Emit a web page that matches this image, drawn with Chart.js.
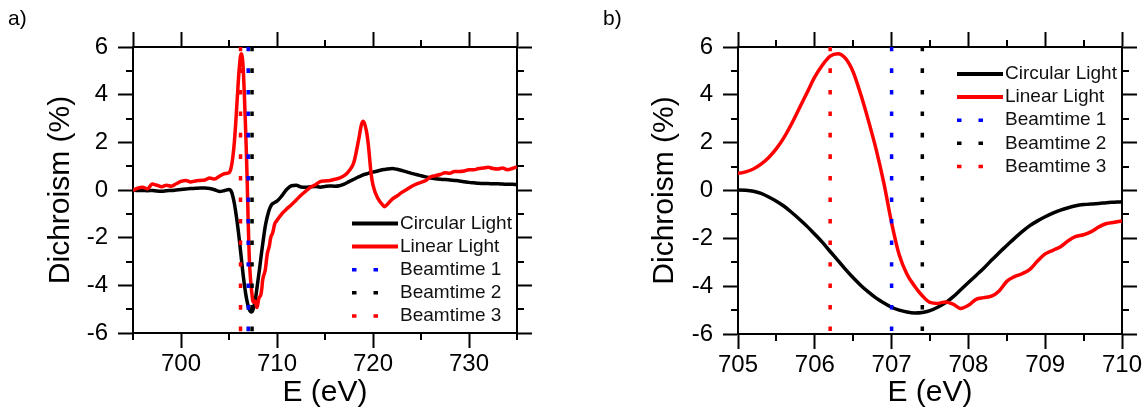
<!DOCTYPE html>
<html>
<head>
<meta charset="utf-8">
<script src="https://cdn.jsdelivr.net/npm/chart.js@4/dist/chart.umd.min.js"></script>
<style>
  body { margin: 0; background: #fff; }
  #wrap { position: relative; width: 1148px; height: 413px; }
  canvas { position: absolute; top: 0; }
  .tag { position: absolute; font: 21px 'Liberation Sans', Arial, sans-serif; line-height: 1; color: #000; }
</style>
</head>
<body>
<div id="wrap">
  <canvas id="panelA" width="574" height="413" style="left:0"></canvas>
  <canvas id="panelB" width="574" height="413" style="left:574px"></canvas>
  <div class="tag" style="left:8px;top:7px">a)</div>
  <div class="tag" style="left:603px;top:7px">b)</div>
</div>
<script>
// photon energy (eV)
const energy = [
  695, 695.5, 696, 696.5, 697, 697.5, 698, 698.5, 699, 699.5,
  700, 700.5, 701, 701.5, 702, 702.5, 703, 703.5, 704, 704.5,
  705, 705.1, 705.2, 705.3, 705.4, 705.5, 705.6, 705.7, 705.8, 705.9,
  706, 706.1, 706.2, 706.3, 706.4, 706.5, 706.6, 706.7, 706.8, 706.9,
  707, 707.1, 707.2, 707.3, 707.4, 707.5, 707.6, 707.7, 707.8, 707.9,
  708, 708.1, 708.2, 708.3, 708.4, 708.5, 708.6, 708.7, 708.8, 708.9,
  709, 709.1, 709.2, 709.3, 709.4, 709.5, 709.6, 709.7, 709.8, 709.9,
  710, 710.5, 711, 711.5, 712, 712.5, 713, 713.5, 714, 714.5,
  715, 715.5, 716, 716.5, 717, 717.5, 718, 718.5, 718.8, 719,
  719.3, 719.5, 719.8, 720, 720.5, 721, 721.2, 721.5, 722, 722.5,
  723, 723.5, 724, 724.5, 725, 725.5, 726, 726.5, 727, 727.5,
  728, 728.5, 729, 729.5, 730, 730.5, 731, 731.5, 732, 732.5,
  733, 733.5, 734, 734.5, 735
];
// dichroism (%) with circular light
const circular = [
  0, -0.02, -0.02, -0.03, -0.02, -0.04, -0.05, -0.03, -0.02, 0,
  0.02, 0.04, 0.06, 0.07, 0.08, 0.08, 0.06, 0.01, -0.06, -0.03,
  0.02, 0.01, -0.03, -0.12, -0.27, -0.45, -0.66, -0.92, -1.2, -1.5,
  -1.83, -2.17, -2.55, -2.92, -3.3, -3.65, -3.97, -4.25, -4.5, -4.7,
  -4.88, -5.0, -5.08, -5.12, -5.1, -5.02, -4.88, -4.7, -4.45, -4.15,
  -3.85, -3.55, -3.25, -2.92, -2.6, -2.3, -2.0, -1.72, -1.47, -1.27,
  -1.1, -0.95, -0.82, -0.72, -0.64, -0.59, -0.56, -0.54, -0.51, -0.49,
  -0.47, -0.25, 0.02, 0.18, 0.2, 0.13, 0.12, 0.14, 0.15, 0.12,
  0.15, 0.17, 0.16, 0.18, 0.25, 0.35, 0.45, 0.55, 0.6, 0.64,
  0.67, 0.7, 0.73, 0.75, 0.8, 0.85, 0.86, 0.88, 0.9, 0.87,
  0.82, 0.76, 0.7, 0.65, 0.6, 0.55, 0.5, 0.47, 0.45, 0.44,
  0.42, 0.4, 0.38, 0.35, 0.32, 0.3, 0.28, 0.27, 0.27, 0.26,
  0.26, 0.25, 0.24, 0.24, 0.23
];
// dichroism (%) with linear light
const linear = [
  -0.02, 0.08, 0.12, 0.05, 0.25, 0.2, 0.14, 0.2, 0.16, 0.26,
  0.36, 0.4, 0.34, 0.38, 0.4, 0.42, 0.5, 0.46, 0.58, 0.68,
  0.72, 0.78, 0.9, 1.1, 1.38, 1.75, 2.22, 2.8, 3.45, 4.1,
  4.75, 5.25, 5.62, 5.72, 5.52, 4.95, 4.0, 2.9, 1.7, 0.3,
  -1.35, -2.7, -3.5, -4.0, -4.4, -4.68, -4.72, -4.66, -4.75, -4.93,
  -4.8, -4.55, -4.48, -4.42, -4.2, -3.8, -3.6, -3.48, -3.3, -2.95,
  -2.65, -2.5, -2.35, -2.1, -1.92, -1.85, -1.72, -1.52, -1.38, -1.33,
  -1.27, -1.0, -0.8, -0.62, -0.42, -0.22, -0.05, 0.12, 0.22, 0.35,
  0.38, 0.4, 0.45, 0.5, 0.6, 0.8, 1.15, 2.1, 2.75, 2.88,
  2.5, 1.95, 0.7, 0.2, -0.35, -0.62, -0.7, -0.6, -0.38, -0.25,
  -0.1, 0.02, 0.15, 0.25, 0.32, 0.4, 0.55, 0.6, 0.65, 0.72,
  0.7, 0.78, 0.78, 0.8, 0.85, 0.85, 0.9, 0.92, 0.95, 0.9,
  0.88, 0.92, 0.85, 0.9, 0.97
];
const beamtimes = [707.0, 707.4, 706.2];
const beamtimeNames = ['Beamtime 1', 'Beamtime 2', 'Beamtime 3'];
const beamtimeColors = ['#0000ff', '#000000', '#ff0000'];

const yTicks = [-6, -4, -2, 0, 2, 4, 6];
const yMinor = [-5, -3, -1, 1, 3, 5];
const xTicksA = [700, 710, 720, 730];
const xTopA = [695, 700, 710, 720, 730, 735];
const xMinorA = [705, 715, 725];
const xMinorBottomA = [695, 705, 715, 725, 735];
const xTicksB = [705, 706, 707, 708, 709, 710];
const xMinorB = [705.5, 706.5, 707.5, 708.5, 709.5];

Chart.defaults.font.family = "'Liberation Sans', Arial, sans-serif";
Chart.defaults.color = '#000';

const minorTicks = {
  id: 'minorTicks',
  afterDraw(chart, args, opts) {
    const ctx = chart.ctx;
    const { left, right, top, bottom } = chart.chartArea;
    ctx.save();
    ctx.strokeStyle = '#000';
    ctx.lineWidth = 2;
    for (const id of Object.keys(opts.values)) {
      const scale = chart.scales[id];
      for (const v of opts.values[id]) {
        const p = Math.round(scale.getPixelForValue(v));
        ctx.beginPath();
        if (scale.position === 'bottom') { ctx.moveTo(p, bottom); ctx.lineTo(p, bottom + opts.length); }
        if (scale.position === 'top') { ctx.moveTo(p, top); ctx.lineTo(p, top - opts.length); }
        if (scale.position === 'left') { ctx.moveTo(left, p); ctx.lineTo(left - opts.length, p); }
        if (scale.position === 'right') { ctx.moveTo(right, p); ctx.lineTo(right + opts.length, p); }
        ctx.stroke();
      }
    }
    ctx.restore();
  }
};

const sampleLegend = {
  id: 'sampleLegend',
  afterDatasetsDraw(chart, args, opts) {
    const ctx = chart.ctx;
    ctx.save();
    ctx.font = opts.fontSize + "px 'Liberation Sans', Arial, sans-serif";
    ctx.textBaseline = 'middle';
    chart.data.datasets.forEach((ds, i) => {
      const y = opts.top + i * opts.rowHeight;
      const dashed = !!ds.borderDash;
      ctx.beginPath();
      ctx.strokeStyle = ds.borderColor;
      ctx.lineWidth = dashed ? 3.5 : 4;
      ctx.setLineDash(dashed ? ds.borderDash : []);
      ctx.moveTo(opts.left, y);
      ctx.lineTo(opts.left + (dashed ? opts.dashedWidth : opts.sampleWidth), y);
      ctx.stroke();
      ctx.setLineDash([]);
      ctx.fillStyle = '#111';
      ctx.fillText(ds.label, opts.left + opts.sampleWidth + opts.gap, y);
    });
    ctx.restore();
  }
};

function makeDatasets() {
  const sets = [
    { label: 'Circular Light', data: energy.map((e, i) => ({ x: e, y: circular[i] })),
      borderColor: '#000000', borderWidth: 3.5, order: 2 },
    { label: 'Linear Light', data: energy.map((e, i) => ({ x: e, y: linear[i] })),
      borderColor: '#ff0000', borderWidth: 3.5, order: 1 }
  ];
  beamtimes.forEach((e, i) => {
    sets.push({
      label: beamtimeNames[i],
      data: [{ x: e, y: yTicks[yTicks.length - 1] }, { x: e, y: yTicks[0] }],
      borderColor: beamtimeColors[i], borderWidth: 3.5, borderDash: [4.5, 17], order: 0
    });
  });
  sets.forEach(s => { s.pointRadius = 0; s.fill = false; s.cubicInterpolationMode = 'monotone'; });
  return sets;
}

function makeChart(id, xMin, xMax, xMajor, xTop, minorVals, box, titlePad, legendPos) {
  const border = { display: true, color: '#000', width: 2 };
  const grid = { drawOnChartArea: false, drawTicks: true, tickLength: 15, tickWidth: 2, tickColor: '#000' };
  const setTicks = vals => s => { s.ticks = vals.map(v => ({ value: v })); };
  return new Chart(document.getElementById(id), {
    type: 'line',
    data: { datasets: makeDatasets() },
    options: {
      responsive: false,
      animation: false,
      events: [],
      devicePixelRatio: 1,
      layout: { padding: 0 },
      plugins: {
        legend: { display: false },
        tooltip: { enabled: false },
        minorTicks: { values: minorVals, length: 7 },
        sampleLegend: Object.assign({ rowHeight: 23.1, sampleWidth: 46, dashedWidth: 27, gap: 2, fontSize: 19 }, legendPos)
      },
      scales: {
        x: {
          type: 'linear', position: 'bottom', min: xMin, max: xMax,
          afterBuildTicks: setTicks(xMajor),
          ticks: { font: { size: 24 }, color: '#000', padding: 2, maxRotation: 0, autoSkip: false, callback: v => String(v) },
          grid: grid, border: border,
          title: { display: true, text: 'E (eV)', font: { size: 30 }, color: '#000', padding: { top: 0, bottom: 2 } },
          afterFit: s => { s.height = 413 - box.bottom; }
        },
        x2: {
          type: 'linear', position: 'top', min: xMin, max: xMax,
          afterBuildTicks: setTicks(xTop),
          ticks: { display: false },
          grid: grid, border: border,
          afterFit: s => { s.height = box.top; }
        },
        y: {
          type: 'linear', position: 'left', min: yTicks[0], max: yTicks[yTicks.length - 1],
          afterBuildTicks: setTicks(yTicks),
          ticks: { font: { size: 24 }, color: '#000', padding: 10, callback: v => String(v) },
          grid: grid, border: border,
          title: { display: true, text: 'Dichroism (%)', font: { size: 30 }, color: '#000', padding: { top: titlePad, bottom: 0 } },
          afterFit: s => { s.width = box.left; }
        },
        y2: {
          type: 'linear', position: 'right', min: yTicks[0], max: yTicks[yTicks.length - 1],
          afterBuildTicks: setTicks(yTicks),
          ticks: { display: false },
          grid: grid, border: border,
          afterFit: s => { s.width = 574 - box.right; }
        }
      }
    },
    plugins: [minorTicks, sampleLegend]
  });
}

makeChart('panelA', 695, 735, xTicksA, xTopA,
  { x: xMinorBottomA, x2: xMinorA, y: yMinor, y2: yMinor },
  { left: 133, right: 517, top: 47, bottom: 333 }, 43,
  { left: 352, top: 223.5 });

makeChart('panelB', 705, 710, xTicksB, xTicksB,
  { x: xMinorB, x2: xMinorB, y: yMinor, y2: yMinor },
  { left: 164, right: 548, top: 47, bottom: 334 }, 73,
  { left: 383, top: 74 });
</script>
</body>
</html>
